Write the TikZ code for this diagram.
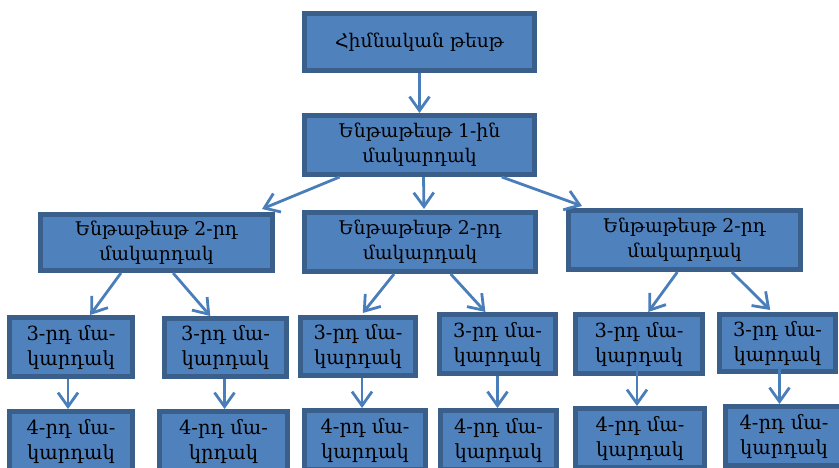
\documentclass[tikz,border=0pt]{standalone}
\usepackage{fontspec}
\setmainfont{DejaVu Serif}
\usetikzlibrary{arrows.meta,calc}
\definecolor{boxfill}{HTML}{4F81BD}
\definecolor{boxline}{HTML}{3A5F8B}
\definecolor{arrowc}{HTML}{4A7EBB}
\newcommand\mybox[6]{\node[bx, minimum width={#4-#2-5}, minimum height={#5-#3-5}] (#1) at ({(#2+#4)/2},{(#3+#5)/2}) {#6};}
\begin{document}
\begin{tikzpicture}[x=1pt,y=-1pt,
  bx/.style={draw=boxline, fill=boxfill, line width=5pt, align=center, inner sep=0pt,
    font=\fontsize{18.8}{25}\selectfont, text=black},
  small/.style={font=\fontsize{19.5}{25}\selectfont},
  arr/.style={draw=arrowc, line width=2.8pt, -{Straight Barb[length=14pt,width=20pt]}}]
\useasboundingbox (0,0) rectangle (839,468);
\clip (0,0) rectangle (839,468);
% level 0 and 1
\mybox{top}{302}{11}{537}{73}{Հիմնական թեսթ}
\mybox{lone}{302}{113}{537}{177}{Ենթաթեսթ 1-ին\\մակարդակ}
% level 2
\mybox{ltwoa}{38}{212}{275}{273}{Ենթաթեսթ 2-րդ\\մակարդակ}
\mybox{ltwob}{302}{210}{538}{274}{Ենթաթեսթ 2-րդ\\մակարդակ}
\mybox{ltwoc}{566}{208}{803}{272}{Ենթաթեսթ 2-րդ\\մակարդակ}
% level 3
\tikzset{bx/.append style={small}}
\mybox{lthra}{7}{315}{135}{379}{3-րդ մա-\\կարդակ}
\mybox{lthrb}{162}{316}{289}{379}{3-րդ մա-\\կարդակ}
\mybox{lthrc}{298}{315}{418}{378}{3-րդ մա-\\կարդակ}
\mybox{lthrd}{437}{312}{558}{376}{3-րդ մա-\\կարդակ}
\mybox{lthre}{573}{312}{705}{376}{3-րդ մա-\\կարդակ}
\mybox{lthrf}{717}{312}{838}{374}{3-րդ մա-\\կարդակ}
% level 4
\mybox{lfoura}{7}{409}{135}{473}{4-րդ մա-\\կարդակ}
\mybox{lfourb}{157}{409}{290}{473}{4-րդ մա-\\կրդակ}
\mybox{lfourc}{302}{408}{428}{472}{4-րդ մա-\\կարդակ}
\mybox{lfourd}{438}{408}{559}{472}{4-րդ մա-\\կարդակ}
\mybox{lfoure}{573}{406}{707}{470}{4-րդ մա-\\կարդակ}
\mybox{lfourf}{723}{404}{845}{468}{4-րդ մա-\\կարդակ}
% arrows level 0 -> 1
\draw[arr] (top.south) -- (lone.north);
% level 1 -> 2
\draw[arr] ($(lone.south west)!0.16!(lone.south east)$) -- ($(ltwoa.north east)+(-13,-3)$);
\draw[arr] ($(lone.south)+(4,0)$) -- ($(ltwob.north)+(4,-1)$);
\draw[arr] ($(lone.south west)!0.85!(lone.south east)$) -- ($(ltwoc.north west)+(16,-2)$);
% level 2 -> 3
\draw[arr] ($(ltwoa.south west)!0.35!(ltwoa.south east)$) -- ($(lthra.north west)!0.65!(lthra.north east)$);
\draw[arr] ($(ltwoa.south west)!0.57!(ltwoa.south east)$) -- ($(lthrb.north west)!0.38!(lthrb.north east)$);
\draw[arr] ($(ltwob.south west)!0.39!(ltwob.south east)$) -- ($(lthrc.north west)!0.54!(lthrc.north east)+(0,-2)$);
\draw[arr] ($(ltwob.south west)!0.63!(ltwob.south east)$) -- ($(lthrd.north west)!0.40!(lthrd.north east)$);
\draw[arr] ($(ltwoc.south west)!0.47!(ltwoc.south east)$) -- ($(lthre.north west)!0.57!(lthre.north east)$);
\draw[arr] ($(ltwoc.south west)!0.70!(ltwoc.south east)$) -- ($(lthrf.north west)!0.44!(lthrf.north east)+(0,-2)$);
% level 3 -> 4
\coordinate (sa) at ($(lthra.south)+(-3,0)$);
\coordinate (sb) at ($(lthrb.south)+(-1,0)$);
\coordinate (sc) at ($(lthrc.south)+(4,0)$);
\coordinate (sd) at ($(lthrd.south)+(0,0)$);
\coordinate (se) at ($(lthre.south)+(-2,-16)$);
\coordinate (sf) at ($(lthrf.south)+(2,-7)$);
\draw[arr] (sa) -- (sa |- lfoura.north);
\draw[arr] (sb) -- (sb |- lfourb.north);
\draw[arr] (sc) -- (sc |- lfourc.north);
\draw[arr] (sd) -- (sd |- lfourd.north);
\draw[arr] (se) -- (se |- lfoure.north);
\draw[arr] (sf) -- (sf |- lfourf.north);
\end{tikzpicture}
\end{document}
